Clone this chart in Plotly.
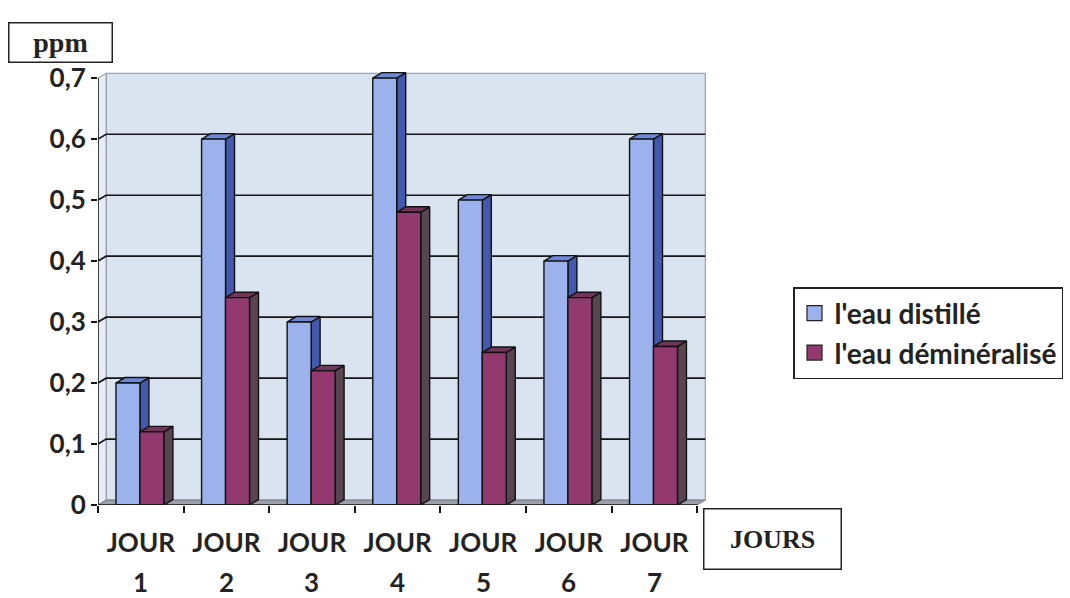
import plotly.graph_objects as go

# ---- data -------------------------------------------------------------
days = ["JOUR", "JOUR", "JOUR", "JOUR", "JOUR", "JOUR", "JOUR"]
day_numbers = ["1", "2", "3", "4", "5", "6", "7"]
series_names = ["l'eau distillé", "l'eau déminéralisé"]
eau_distillee = [0.2, 0.6, 0.3, 0.7, 0.5, 0.4, 0.6]
eau_demineralisee = [0.12, 0.34, 0.22, 0.48, 0.25, 0.34, 0.26]
y_tick_values = [0, 0.1, 0.2, 0.3, 0.4, 0.5, 0.6, 0.7]
y_tick_labels = ["0", "0,1", "0,2", "0,3", "0,4", "0,5", "0,6", "0,7"]

# ---- styling ----------------------------------------------------------
FONT = "Lato"
TEXT = "#232323"
FRONT = ["#9cb2ec", "#923a6f"]
SIDE = ["#4359ad", "#574650"]
TOP = ["#6f88d4", "#70365a"]
WALL = "#dae4f1"
SIDE_WALL = "#e6edf6"
FLOOR = "#9aa1aa"

BAR_SPAN = [(-0.29, -0.01), (-0.01, 0.27)]   # front face extent around each category
DEPTH_X, DEPTH_Y = 0.105, 0.009               # bar depth (3-D look)
WALL_X, WALL_Y = 0.095, 0.008                 # back wall offset
X_MIN, X_MAX = -0.5, len(days) - 0.5
Y_TOP = max(y_tick_values)

# plot area in pixels, used to place the boxed labels in paper units
PLOT_L, PLOT_R, PLOT_T, PLOT_B = 98, 710, 69, 505


def px_to_paper(px, py):
    return ((px - PLOT_L) / (PLOT_R - PLOT_L), (PLOT_B - py) / (PLOT_B - PLOT_T))


def faces(values, span):
    """Build front/side/top polygons (None separated) for one series."""
    front_x, front_y, side_x, side_y, top_x, top_y = [], [], [], [], [], []
    for i, v in enumerate(values):
        x0, x1 = i + span[0], i + span[1]
        front_x += [x0, x1, x1, x0, x0, None]
        front_y += [0, 0, v, v, 0, None]
        side_x += [x1, x1 + DEPTH_X, x1 + DEPTH_X, x1, x1, None]
        side_y += [0, DEPTH_Y, v + DEPTH_Y, v, 0, None]
        top_x += [x0, x1, x1 + DEPTH_X, x0 + DEPTH_X, x0, None]
        top_y += [v, v, v + DEPTH_Y, v + DEPTH_Y, v, None]
    return (front_x, front_y), (side_x, side_y), (top_x, top_y)


fig = go.Figure()

for k, values in enumerate([eau_distillee, eau_demineralisee]):
    front, side, top = faces(values, BAR_SPAN[k])
    for (xs, ys), color in [(side, SIDE[k]), (top, TOP[k]), (front, FRONT[k])]:
        fig.add_trace(go.Scatter(
            x=xs, y=ys, mode="lines", fill="toself", fillcolor=color,
            line=dict(color="#111111", width=1.4), hoverinfo="skip",
            showlegend=False,
        ))

# legend keys
for k, name in enumerate(series_names):
    fig.add_trace(go.Scatter(
        x=[None], y=[None], mode="markers", name=name,
        marker=dict(symbol="square", size=15, color=FRONT[k],
                    line=dict(color="#222222", width=1.2)),
    ))

# ---- 3-D walls, floor and gridlines -------------------------------------
shapes = []
# back wall
shapes.append(dict(type="rect", xref="x", yref="y", layer="below",
                   x0=X_MIN + WALL_X, x1=X_MAX + WALL_X, y0=WALL_Y, y1=Y_TOP + WALL_Y,
                   fillcolor=WALL, line=dict(color="#8a8f96", width=1)))
# left side wall
shapes.append(dict(type="path", xref="x", yref="y", layer="below",
                   path=f"M{X_MIN},0 L{X_MIN + WALL_X},{WALL_Y} L{X_MIN + WALL_X},{Y_TOP + WALL_Y} "
                        f"L{X_MIN},{Y_TOP} Z",
                   fillcolor=SIDE_WALL, line=dict(color="#8a8f96", width=1)))
# floor
shapes.append(dict(type="path", xref="x", yref="y", layer="below",
                   path=f"M{X_MIN},0 L{X_MAX},0 L{X_MAX + WALL_X},{WALL_Y} L{X_MIN + WALL_X},{WALL_Y} Z",
                   fillcolor=FLOOR, line=dict(color="#777c84", width=1)))
# gridlines (bent onto the side wall)
for v in y_tick_values[1:-1]:
    shapes.append(dict(type="path", xref="x", yref="y", layer="below",
                       path=f"M{X_MIN},{v} L{X_MIN + WALL_X},{v + WALL_Y} L{X_MAX + WALL_X},{v + WALL_Y}",
                       line=dict(color="#151515", width=1.7)))
# axis lines
shapes.append(dict(type="line", xref="x", yref="y", layer="above",
                   x0=X_MIN, x1=X_MIN, y0=0, y1=Y_TOP, line=dict(color="#151515", width=1.5)))
shapes.append(dict(type="line", xref="x", yref="y", layer="above",
                   x0=X_MIN, x1=X_MAX, y0=0, y1=0, line=dict(color="#151515", width=1.5)))

# ---- text boxes --------------------------------------------------------
annotations = []
for i, num in enumerate(day_numbers):
    annotations.append(dict(x=i, xref="x", y=0, yref="paper", yanchor="middle",
                            yshift=-77, text=num, showarrow=False,
                            font=dict(family=FONT, size=26, color=TEXT, weight="bold")))
ppm_x, ppm_y = px_to_paper(60, 42)
annotations.append(dict(x=ppm_x, y=ppm_y, xref="paper", yref="paper",
                        xanchor="center", yanchor="middle",
                        text="ppm", showarrow=False, width=102, height=38, borderpad=0,
                        bordercolor="#222222", borderwidth=1.5, bgcolor="white",
                        font=dict(family="Liberation Serif", size=28, color=TEXT, weight="bold")))
jours_x, jours_y = px_to_paper(772, 539)
annotations.append(dict(x=jours_x, y=jours_y, xref="paper", yref="paper",
                        xanchor="center", yanchor="middle",
                        text="JOURS", showarrow=False, width=136, height=59, borderpad=0,
                        bordercolor="#222222", borderwidth=1.5, bgcolor="white",
                        font=dict(family="Liberation Serif", size=26, color=TEXT, weight="bold")))

leg_x, leg_y = px_to_paper(793, 287)
fig.update_layout(
    width=1070, height=598,
    margin=dict(l=PLOT_L, r=1070 - PLOT_R, t=PLOT_T, b=598 - PLOT_B, autoexpand=False),
    paper_bgcolor="white", plot_bgcolor="white",
    shapes=shapes, annotations=annotations,
    showlegend=True,
    legend=dict(x=leg_x, y=leg_y, xanchor="left", yanchor="top",
                bordercolor="#222222", borderwidth=1.5, bgcolor="white",
                font=dict(family=FONT, size=28, color=TEXT, weight="bold"),
                itemwidth=30),
    xaxis=dict(range=[X_MIN, X_MAX + 0.15], tickmode="array",
               tickvals=list(range(len(days))), ticktext=days,
               ticks="", showgrid=False, zeroline=False, showline=False,
               tickfont=dict(family=FONT, size=26, color=TEXT, weight="bold"),
               ticklabelstandoff=20,
               minor=dict(tickmode="array",
                          tickvals=[i - 0.5 for i in range(len(days) + 1)],
                          ticks="outside", ticklen=7, tickwidth=1.5, tickcolor="#151515",
                          showgrid=False)),
    yaxis=dict(range=[0, Y_TOP + 0.015], tickmode="array",
               tickvals=y_tick_values, ticktext=y_tick_labels,
               ticks="outside", ticklen=6, tickwidth=1.5, tickcolor="#151515",
               showgrid=False, zeroline=False, showline=False,
               tickfont=dict(family=FONT, size=26, color=TEXT, weight="bold")),
)

fig.write_html("out.html")
